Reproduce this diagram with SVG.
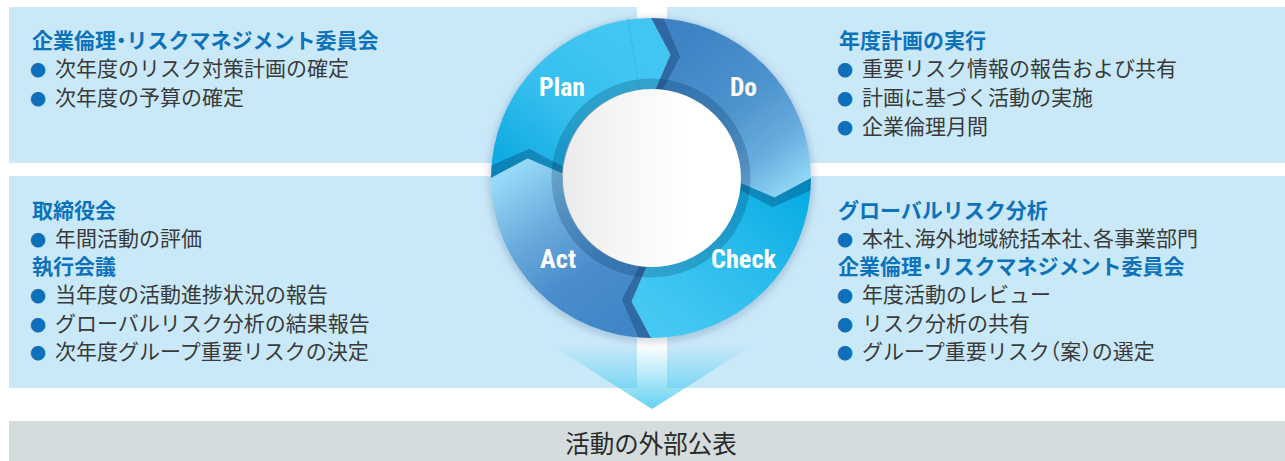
<svg xmlns="http://www.w3.org/2000/svg" width="1285" height="461" viewBox="0 0 1285 461">
  <style>
    .panel { fill: #c9e9f9; }
    .h { font-family: "Noto Sans CJK JP", sans-serif; font-weight: 700; font-size: 21px; fill: #0e72bb; }
    .b { font-family: "Noto Sans CJK JP", sans-serif; font-weight: 400; font-size: 21px; fill: #3a3a3a; }
    .dot { fill: #0e6fbb; font-size: 16px; }
    .half { font-feature-settings: "halt"; }
    .lbl { font-family: "Liberation Sans Narrow", "Roboto Condensed", "Liberation Sans", sans-serif; font-weight: 700; font-size: 26px; fill: #ffffff; }
    .shade { fill: rgba(0, 30, 70, 0.27); }
    .pub { font-family: "Noto Sans CJK JP", sans-serif; font-weight: 400; font-size: 24.5px; fill: #2a2a2a; }
  </style>
  <defs>
    <linearGradient id="gPlan" gradientUnits="userSpaceOnUse" x1="610" y1="40" x2="505" y2="165">
      <stop offset="0" stop-color="#40c6f1"/>
      <stop offset="0.5" stop-color="#36bfee"/>
      <stop offset="1" stop-color="#0eaae2"/>
    </linearGradient>
    <linearGradient id="gDo" gradientUnits="userSpaceOnUse" x1="690" y1="35" x2="805" y2="185">
      <stop offset="0" stop-color="#3e84c5"/>
      <stop offset="0.45" stop-color="#4d93cd"/>
      <stop offset="0.75" stop-color="#6aaedf"/>
      <stop offset="1" stop-color="#94dcf7"/>
    </linearGradient>
    <linearGradient id="gCheck" gradientUnits="userSpaceOnUse" x1="800" y1="190" x2="680" y2="330">
      <stop offset="0" stop-color="#08ace5"/>
      <stop offset="0.5" stop-color="#2bbcec"/>
      <stop offset="1" stop-color="#44c8f2"/>
    </linearGradient>
    <linearGradient id="gAct" gradientUnits="userSpaceOnUse" x1="505" y1="175" x2="615" y2="330">
      <stop offset="0" stop-color="#95daf7"/>
      <stop offset="0.35" stop-color="#6aaadc"/>
      <stop offset="0.65" stop-color="#4a8dcc"/>
      <stop offset="1" stop-color="#4086c6"/>
    </linearGradient>
    <linearGradient id="gHub" x1="0" y1="0" x2="1" y2="0">
      <stop offset="0" stop-color="#ebebeb"/>
      <stop offset="0.4" stop-color="#f8f8f8"/>
      <stop offset="0.7" stop-color="#ffffff"/>
    </linearGradient>
    <linearGradient id="gArrow" gradientUnits="userSpaceOnUse" x1="0" y1="345" x2="0" y2="409">
      <stop offset="0" stop-color="#3cc6ef" stop-opacity="0"/>
      <stop offset="1" stop-color="#3cc6ef" stop-opacity="0.8"/>
    </linearGradient>
    <filter id="soft" x="-20%" y="-20%" width="140%" height="140%">
      <feGaussianBlur stdDeviation="4"/>
    </filter>
    <!-- shadow strip cast by one segment's tip onto the next (drawn at the 12 o'clock joint) -->
    <path id="joint-shade" d="M651,18 A160,160 0 0 1 663.55,18.49 L680.18,56.45 L662.62,89.76 A89,89 0 0 0 655.66,89.12 L670.55,54.54 Z"/>
  </defs>

  <rect width="1285" height="461" fill="#ffffff"/>

  <!-- Plan: committee decisions -->
  <g id="panel-plan">
    <rect class="panel" x="9" y="7" width="628" height="156"/>
    <text class="h" x="32" y="48">企業倫理<tspan class="half">・</tspan>リスクマネジメント委員会</text>
    <text class="b" y="76"><tspan class="dot" x="30">●</tspan><tspan x="55">次年度のリスク対策計画の確定</tspan></text>
    <text class="b" y="105"><tspan class="dot" x="30">●</tspan><tspan x="55">次年度の予算の確定</tspan></text>
  </g>

  <!-- Do: execution of the annual plan -->
  <g id="panel-do">
    <rect class="panel" x="667" y="7" width="618" height="156"/>
    <text class="h" x="839" y="48">年度計画の実行</text>
    <text class="b" y="76"><tspan class="dot" x="837">●</tspan><tspan x="862">重要リスク情報の報告および共有</tspan></text>
    <text class="b" y="105"><tspan class="dot" x="837">●</tspan><tspan x="862">計画に基づく活動の実施</tspan></text>
    <text class="b" y="134"><tspan class="dot" x="837">●</tspan><tspan x="862">企業倫理月間</tspan></text>
  </g>

  <!-- Act: board and executive meetings -->
  <g id="panel-act">
    <rect class="panel" x="9" y="176" width="628" height="212"/>
    <text class="h" x="32" y="218">取締役会</text>
    <text class="b" y="246"><tspan class="dot" x="30">●</tspan><tspan x="55">年間活動の評価</tspan></text>
    <text class="h" x="32" y="274">執行会議</text>
    <text class="b" y="302"><tspan class="dot" x="30">●</tspan><tspan x="55">当年度の活動進捗状況の報告</tspan></text>
    <text class="b" y="331"><tspan class="dot" x="30">●</tspan><tspan x="55">グローバルリスク分析の結果報告</tspan></text>
    <text class="b" y="359"><tspan class="dot" x="30">●</tspan><tspan x="55">次年度グループ重要リスクの決定</tspan></text>
  </g>

  <!-- Check: risk analysis and review -->
  <g id="panel-check">
    <rect class="panel" x="667" y="176" width="618" height="212"/>
    <text class="h" x="838" y="218">グローバルリスク分析</text>
    <text class="b" y="246"><tspan class="dot" x="837">●</tspan><tspan x="862">本社<tspan class="half">、</tspan>海外地域統括本社<tspan class="half">、</tspan>各事業部門</tspan></text>
    <text class="h" x="838" y="274">企業倫理<tspan class="half">・</tspan>リスクマネジメント委員会</text>
    <text class="b" y="302"><tspan class="dot" x="837">●</tspan><tspan x="862">年度活動のレビュー</tspan></text>
    <text class="b" y="331"><tspan class="dot" x="837">●</tspan><tspan x="862">リスク分析の共有</tspan></text>
    <text class="b" y="359"><tspan class="dot" x="837">●</tspan><tspan x="862">グループ重要リスク<tspan class="half">（</tspan>案<tspan class="half">）</tspan>の選定</tspan></text>
  </g>

  <!-- downward flow toward external publication -->
  <g id="connectors">
    <polygon points="548,343 756,343 652,409" fill="url(#gArrow)"/>
  </g>

  <!-- PDCA wheel -->
  <g id="cycle">
    <circle cx="651" cy="180" r="161" fill="rgba(0,40,80,0.22)" filter="url(#soft)"/>
    <g id="seg-plan">
      <path d="M491,178 A160,160 0 0 1 651,18 L670.55,54.54 L655.66,89.12 A89,89 0 0 0 562.12,173.34 L527.54,158.45 Z" fill="url(#gPlan)"/>
      <line x1="628" y1="18" x2="639" y2="89" stroke="#1a7fb0" stroke-opacity="0.35" stroke-width="0.8" stroke-dasharray="3 1.5"/>
    </g>
    <g id="seg-do">
      <path d="M651,18 A160,160 0 0 1 811,178 L774.46,197.55 L739.88,182.66 A89,89 0 0 0 655.66,89.12 L670.55,54.54 Z" fill="url(#gDo)"/>
    </g>
    <g id="seg-check">
      <path d="M811,178 A160,160 0 0 1 651,338 L631.45,301.46 L646.34,266.88 A89,89 0 0 0 739.88,182.66 L774.46,197.55 Z" fill="url(#gCheck)"/>
    </g>
    <g id="seg-act">
      <path d="M651,338 A160,160 0 0 1 491,178 L527.54,158.45 L562.12,173.34 A89,89 0 0 0 646.34,266.88 L631.45,301.46 Z" fill="url(#gAct)"/>
    </g>
    <!-- tip shadows at the four joints -->
    <use href="#joint-shade" class="shade"/>
    <use href="#joint-shade" class="shade" transform="rotate(90 651 178)"/>
    <use href="#joint-shade" class="shade" transform="rotate(180 651 178)"/>
    <use href="#joint-shade" class="shade" transform="rotate(270 651 178)"/>
    <!-- inner dark ring and hub -->
    <circle cx="651" cy="178" r="94" fill="none" stroke="rgba(0,40,80,0.22)" stroke-width="11"/>
    <circle cx="652" cy="178" r="89" fill="url(#gHub)"/>
    <text class="lbl" x="539" y="96" textLength="46" lengthAdjust="spacingAndGlyphs">Plan</text>
    <text class="lbl" x="730" y="96" textLength="27" lengthAdjust="spacingAndGlyphs">Do</text>
    <text class="lbl" x="711" y="268" textLength="65" lengthAdjust="spacingAndGlyphs">Check</text>
    <text class="lbl" x="540" y="268" textLength="36" lengthAdjust="spacingAndGlyphs">Act</text>
  </g>

  <!-- external publication bar -->
  <g id="publication">
    <rect x="9" y="421" width="1276" height="40" fill="#d4dcdd"/>
    <text class="pub" x="651" y="453" text-anchor="middle">活動の外部公表</text>
  </g>
</svg>
